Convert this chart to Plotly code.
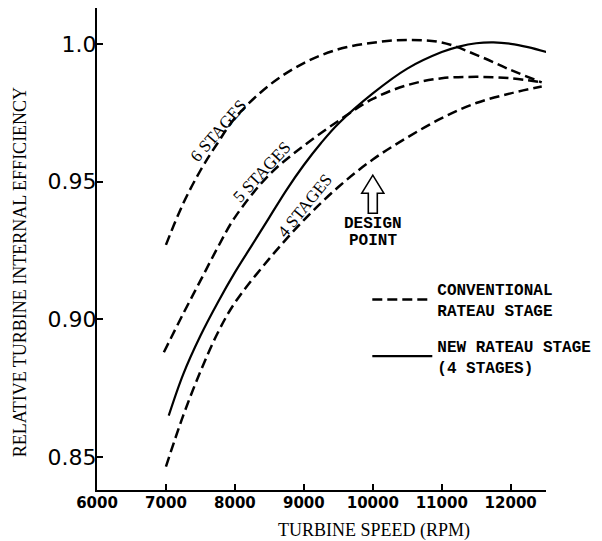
import plotly.graph_objects as go

# ---- data ----
speed_6 = [7000, 7250, 7500, 7750, 8000, 8500, 9000, 9500, 10000, 10500, 11000, 11500, 12000, 12450]
eff_6 = [0.927, 0.942, 0.954, 0.964, 0.973, 0.985, 0.993, 0.998, 1.0004, 1.0014, 1.0005, 0.996, 0.9905, 0.986]

speed_5 = [6970, 7250, 7500, 7750, 8000, 8500, 9000, 9500, 10000, 10500, 11000, 11500, 12000, 12450]
eff_5 = [0.888, 0.902, 0.914, 0.926, 0.937, 0.9525, 0.963, 0.972, 0.980, 0.985, 0.9875, 0.988, 0.9875, 0.986]

speed_4 = [7000, 7250, 7500, 7750, 8000, 8500, 9000, 9500, 10000, 10500, 11000, 11500, 12000, 12450]
eff_4 = [0.8465, 0.865, 0.881, 0.895, 0.906, 0.922, 0.936, 0.948, 0.958, 0.966, 0.973, 0.9785, 0.982, 0.9845]

speed_new = [7040, 7250, 7500, 7750, 8000, 8250, 8500, 8750, 9000, 9250, 9500, 10000, 10500, 11000, 11250, 11500, 11750, 12000, 12250, 12520]
eff_new = [0.865, 0.880, 0.894, 0.906, 0.917, 0.927, 0.937, 0.947, 0.956, 0.964, 0.971, 0.982, 0.991, 0.997, 0.999, 1.0002, 1.0005, 1.0, 0.9988, 0.997]

x_ticks = [6000, 7000, 8000, 9000, 10000, 11000, 12000]
x_tick_text = ["6000", "7000", "8000", "9000", "10000", "11000", "12000"]
y_ticks = [0.85, 0.90, 0.95, 1.0]
y_tick_text = ["0.85", "0.90", "0.95", "1.0"]

stage_labels = ["6 STAGES", "5 STAGES", "4 STAGES"]
stage_label_x = [7762, 8400, 9019]
stage_label_y = [0.9687, 0.9536, 0.9413]
stage_label_angle = [-49, -47, -51]

design_speed = 10000
design_arrow_base = 0.9385
design_text = ["DESIGN", "POINT"]
design_text_y = [0.9346, 0.9284]

legend_conv = "CONVENTIONAL<br>RATEAU STAGE"
legend_new = "NEW RATEAU STAGE<br>(4 STAGES)"

DASH = "10px,5px"
fig = go.Figure()
for i, (sx, sy) in enumerate([(speed_6, eff_6), (speed_5, eff_5), (speed_4, eff_4)]):
    fig.add_trace(go.Scatter(
        x=sx, y=sy, mode="lines", line=dict(color="black", width=2.5, dash=DASH, shape="spline", smoothing=1.0),
        name=legend_conv, legendgroup="conv", showlegend=(i == 0), hoverinfo="skip"))
fig.add_trace(go.Scatter(
    x=speed_new, y=eff_new, mode="lines", line=dict(color="black", width=2.2, shape="spline", smoothing=1.0),
    name=legend_new, legendgroup="new", showlegend=True, hoverinfo="skip"))

serif = "Liberation Serif"
mono = "Liberation Mono"
for t, x, y, a in zip(stage_labels, stage_label_x, stage_label_y, stage_label_angle):
    fig.add_annotation(x=x, y=y, text=t, showarrow=False, textangle=a,
                       font=dict(family=serif, size=17, color="black"))

for t, y in zip(design_text, design_text_y):
    fig.add_annotation(x=design_speed, y=y, text=t, showarrow=False,
                       xanchor="center", yanchor="middle",
                       font=dict(family=mono, size=16, color="black", weight="bold"))

# hollow block arrow pointing up at the design point
fig.add_shape(type="path", xref="x", yref="y", xsizemode="pixel", ysizemode="pixel",
              xanchor=design_speed, yanchor=design_arrow_base,
              path="M -4.5,0 L 4.5,0 L 4.5,20 L 11,20 L 0,38 L -11,20 L -4.5,20 Z",
              line=dict(color="black", width=1.6), fillcolor="white")

fig.add_annotation(xref="paper", yref="paper", x=-0.171, y=0.452, xanchor="center", yanchor="middle",
                   text="RELATIVE TURBINE INTERNAL EFFICIENCY",
                   textangle=-90, showarrow=False, font=dict(family=serif, size=18, color="black"))
fig.add_annotation(xref="paper", yref="paper", x=0.616, y=-0.083, xanchor="center", yanchor="middle",
                   text="TURBINE SPEED (RPM)",
                   showarrow=False, font=dict(family=serif, size=18, color="black"))

fig.update_xaxes(range=[6000, 12512], tickvals=x_ticks, ticktext=x_tick_text, showline=True,
                 linecolor="black", linewidth=2, ticks="inside", ticklen=6, tickwidth=1.5, tickcolor="black",
                 showgrid=False, zeroline=False, ticklabelstandoff=-2,
                 tickfont=dict(family="DejaVu Sans", size=15, color="black", weight="bold"))
fig.update_yaxes(range=[0.838, 1.0130], tickvals=y_ticks, ticktext=y_tick_text, showline=True,
                 linecolor="black", linewidth=2, ticks="inside", ticklen=6, tickwidth=1.5, tickcolor="black",
                 showgrid=False, zeroline=False, ticklabelstandoff=-6,
                 tickfont=dict(family="DejaVu Sans", size=22, color="black"))

fig.update_layout(
    width=594, height=533, margin=dict(l=89, r=56, t=0, b=51, autoexpand=False),
    plot_bgcolor="white", paper_bgcolor="white",
    legend=dict(x=0.602, y=0.452, xanchor="left", yanchor="top", bgcolor="rgba(0,0,0,0)",
                font=dict(family=mono, size=16, color="black", weight="bold"),
                tracegroupgap=12, itemwidth=60),
)

fig.write_html("out.html")
